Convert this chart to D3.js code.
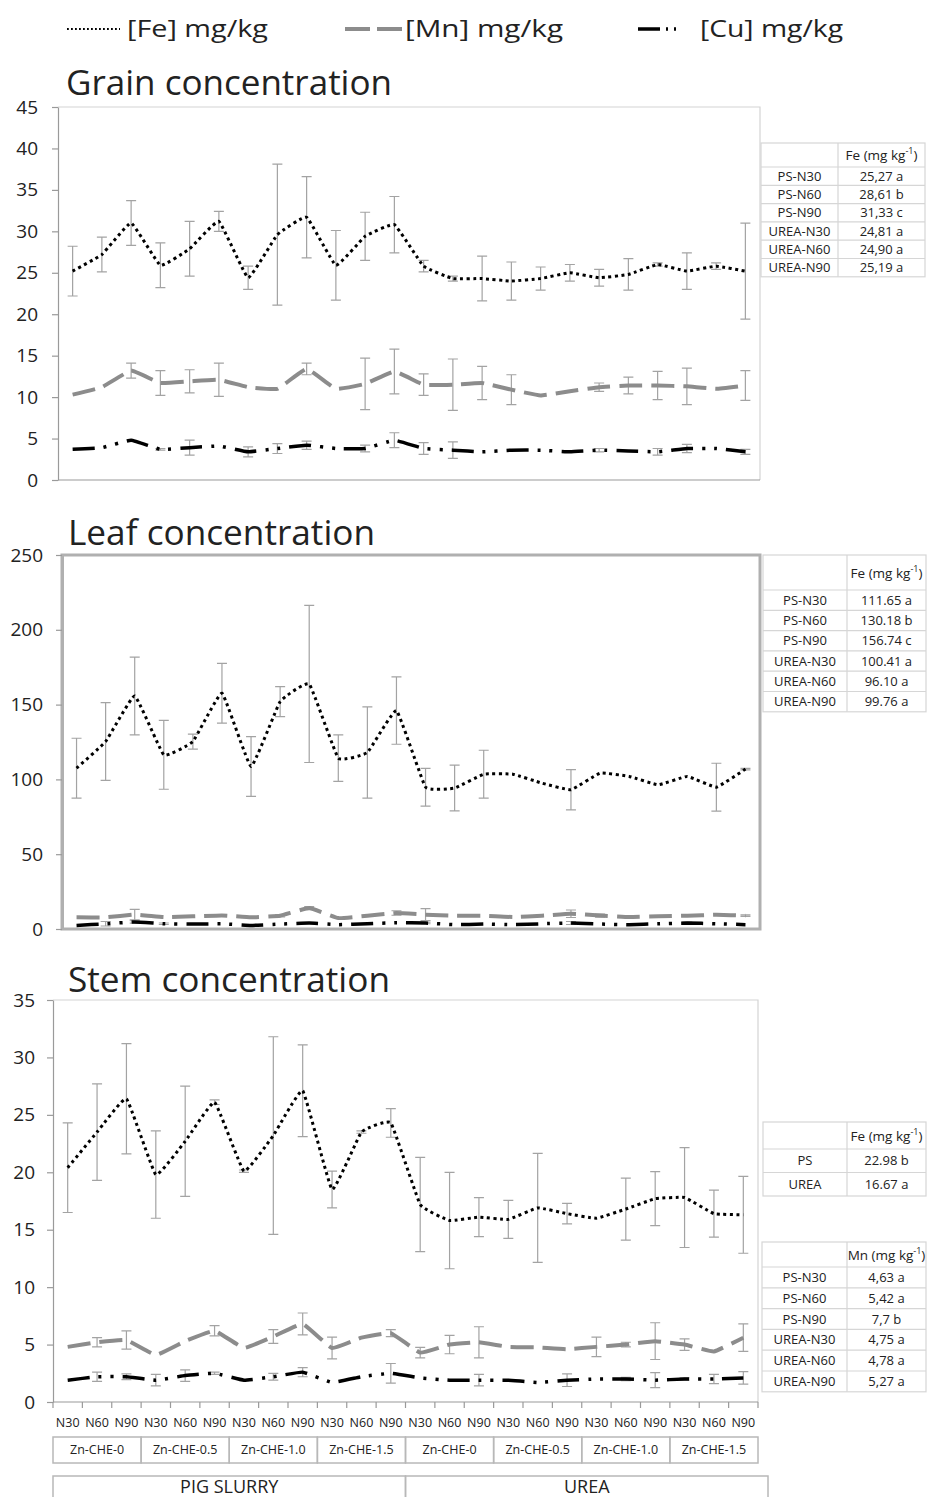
<!DOCTYPE html>
<html><head><meta charset="utf-8">
<script src="https://cdn.jsdelivr.net/npm/d3@7"></script>
<style>
body{margin:0;background:#fff}
svg{display:block}
text{font-family:'Open Sans',sans-serif;fill:#222}
</style>
</head><body>
<svg id="c" width="927" height="1497"></svg>
<script>
// ---------- DATA ----------
const nLevels = ["N30","N60","N90"];
const znLevels = ["Zn-CHE-0","Zn-CHE-0.5","Zn-CHE-1.0","Zn-CHE-1.5"];
const fertilizers = ["PIG SLURRY","UREA"];
const categories = d3.range(24).map(i => fertilizers[Math.floor(i/12)] + "|" + znLevels[Math.floor(i/3)%4] + "|" + nLevels[i%3]);

const legendLabels = ["[Fe] mg/kg","[Mn] mg/kg","[Cu] mg/kg"];
const panelTitles = ["Grain concentration","Leaf concentration","Stem concentration"];

const grainTicks = [0,5,10,15,20,25,30,35,40,45];
const leafTicks = [0,50,100,150,200,250];
const stemTicks = [0,5,10,15,20,25,30,35];

const grainFe    = [25.2,27.2,31.0,25.9,27.9,31.2,24.4,29.6,31.7,25.9,29.4,30.8,25.8,24.3,24.3,24.0,24.3,25.0,24.4,24.8,26.0,25.2,25.8,25.2];
const grainFeErr = [3.0,2.1,2.7,2.7,3.3,1.2,1.4,8.5,4.9,4.2,2.9,3.4,0.7,0.3,2.7,2.3,1.4,1.0,1.0,1.9,0.2,2.2,0.4,5.8];
const grainMn    = [10.3,11.2,13.2,11.7,11.9,12.1,11.2,11.0,13.4,11.0,11.6,13.1,11.5,11.5,11.7,10.9,10.2,10.7,11.2,11.4,11.4,11.3,11.0,11.4];
const grainMnErr = [0,0,0.9,1.5,1.4,2.0,0,0,0.7,0,3.1,2.7,1.3,3.1,2.0,1.8,0,0,0.5,1.0,1.7,2.2,0,1.8];
const grainCu    = [3.7,3.9,4.8,3.7,3.9,4.1,3.4,3.8,4.2,3.8,3.8,4.8,3.8,3.6,3.4,3.6,3.6,3.4,3.6,3.5,3.4,3.8,3.8,3.4];
const grainCuErr = [0,0,0,0.1,0.9,0,0.6,0.6,0.5,0,0.4,0.9,0.7,1.0,0,0,0,0,0.2,0,0.4,0.5,0,0.3];

const leafFe    = [107.5,125.3,155.8,116.4,125.3,157.6,108.6,152.0,163.8,114.2,118.0,146.0,94.8,94.2,103.5,103.5,97.5,93.1,104.2,102.0,96.4,102.0,94.8,106.9];
const leafFeErr = [20,26,26,23,5,20,20,10,52.5,15.5,30.5,22.5,12.6,15.3,16,0,0,13.5,0,0,0,0,16,0.5];
const leafMn    = [7.8,7.8,9.6,8.0,8.5,9.1,7.8,8.9,14.0,7.3,8.9,10.7,9.6,8.9,8.9,8.0,8.9,10.2,9.0,8.0,8.5,8.9,9.5,8.9];
const leafMnErr = [0,0,3.5,0,0,0,0,0.8,1,0,0,1.5,4,0,0,0,0,2.5,1,0,0,0,0,0.5];
const leafCu    = [2.4,3.5,4.7,3.5,3.3,3.5,2.4,3.3,4.0,2.9,3.5,4.2,4.0,2.9,3.3,2.9,3.5,4.0,3.3,2.9,3.5,4.0,3.5,2.9];
const leafCuErr = [0,1.5,0.8,0.5,0,0,0,0,0,0,0,0,0.5,0,0,0,0,1,0,0,0,0.6,0,0];

const stemFe    = [20.4,23.5,26.4,19.8,22.7,26.1,20.1,23.2,27.1,18.5,23.5,24.3,17.2,15.8,16.1,15.9,16.9,16.4,16.0,16.8,17.7,17.8,16.4,16.3];
const stemFeErr = [3.9,4.2,4.8,3.8,4.8,0.2,0.1,8.6,4.0,1.6,0.1,1.25,4.1,4.2,1.7,1.65,4.75,0.9,0,2.7,2.35,4.35,2.05,3.35];
const stemMn    = [4.8,5.2,5.4,4.1,5.3,6.2,4.7,5.7,6.8,4.7,5.6,6.0,4.3,5.0,5.2,4.8,4.75,4.6,4.8,5.0,5.3,5.0,4.4,5.6];
const stemMnErr = [0,0.4,0.8,0,0,0.45,0,0.6,0.95,0.95,0,0.3,0.45,0.8,1.35,0,0,0,0.85,0.2,1.6,0.5,0,1.2];
const stemCu    = [1.9,2.2,2.2,1.9,2.3,2.5,1.9,2.2,2.6,1.7,2.2,2.5,2.1,1.9,1.9,1.9,1.7,1.9,2.0,2.0,1.9,2.0,2.0,2.1];
const stemCuErr = [0,0.4,0.25,0.5,0.5,0.1,0.05,0.3,0.4,0,0,0.85,0,0,0.5,0,0,0.55,0,0.15,0.65,0.1,0.4,0.55];

const treatRows = ["PS-N30","PS-N60","PS-N90","UREA-N30","UREA-N60","UREA-N90"];
const grainTableFe = ["25,27 a","28,61 b","31,33 c","24,81 a","24,90 a","25,19 a"];
const leafTableFe = ["111.65 a","130.18 b","156.74 c","100.41 a","96.10 a","99.76 a"];
const stemFeRows = ["PS","UREA"];
const stemTableFe = ["22.98 b","16.67 a"];
const stemTableMn = ["4,63 a","5,42 a","7,7 b","4,75 a","4,78 a","5,27 a"];

// ---------- STYLES ----------
const styles = {
  fe: {stroke:"#000", width:3, dash:"3 3.5"},
  mn: {stroke:"#8c8c8c", width:4, dash:"23 9"},
  cu: {stroke:"#000", width:3.5, dash:"22 9 3 9 3 9"}
};
const FONT = "'Open Sans',sans-serif";
const svg = d3.select("#c");
svg.append("rect").attr("width",927).attr("height",1497).attr("fill","#fff");

// ---------- LEGEND ----------
const lg = svg.append("g");
lg.append("line").attr("x1",67).attr("x2",120).attr("y1",29).attr("y2",29)
  .attr("stroke","#000").attr("stroke-width",1.8).attr("stroke-dasharray","1.8 2.2");
lg.append("text").attr("x",127).attr("y",37).attr("font-size",24).attr("textLength",141).attr("lengthAdjust","spacingAndGlyphs").text(legendLabels[0]);
lg.append("line").attr("x1",345).attr("x2",402).attr("y1",29).attr("y2",29)
  .attr("stroke","#8c8c8c").attr("stroke-width",4).attr("stroke-dasharray","25 7");
lg.append("text").attr("x",405).attr("y",37).attr("font-size",24).attr("textLength",158).attr("lengthAdjust","spacingAndGlyphs").text(legendLabels[1]);
lg.append("line").attr("x1",638).attr("x2",682).attr("y1",29).attr("y2",29)
  .attr("stroke","#000").attr("stroke-width",3.5).attr("stroke-dasharray","22 6 2 6 2 20");
lg.append("text").attr("x",700).attr("y",37).attr("font-size",24).attr("textLength",143).attr("lengthAdjust","spacingAndGlyphs").text(legendLabels[2]);

// ---------- PANEL ----------
function drawPanel(p){
  const x = d3.scaleBand().domain(categories).range([p.x0,p.x1]);
  const y = d3.scaleLinear().domain([0,p.max]).range([p.yb,p.yt]);
  const bw = x.bandwidth();
  const cx = c => x(c) + bw/2;
  const g = svg.append("g");

  g.append("text").attr("x",p.tx).attr("y",p.ty).attr("font-size",35)
    .attr("textLength",p.tl).attr("lengthAdjust","spacingAndGlyphs").text(p.title);

  if (p.thick){
    g.append("rect").attr("x",p.x0).attr("y",p.yt).attr("width",p.x1-p.x0).attr("height",p.yb-p.yt)
      .attr("fill","none").attr("stroke","#b0b0b0").attr("stroke-width",3);
  } else {
    g.append("path").attr("d",`M${p.x0},${p.yt}H${p.x1}V${p.yb}`).attr("fill","none").attr("stroke","#d4d4d4").attr("stroke-width",1.2);
    g.append("line").attr("x1",p.x0).attr("x2",p.x1).attr("y1",p.yb).attr("y2",p.yb).attr("stroke","#9a9a9a").attr("stroke-width",1.2);
  }
  const ax = g.append("g").attr("transform",`translate(${p.x0},0)`)
    .call(d3.axisLeft(y).tickValues(p.ticks).tickSize(6).tickSizeOuter(0).tickPadding(p.pad));
  ax.select(".domain").attr("stroke",p.thick?"#b0b0b0":"#9a9a9a").attr("stroke-width",p.thick?3:1.2);
  ax.selectAll(".tick line").attr("stroke","#9a9a9a").attr("stroke-width",1.2);
  ax.selectAll(".tick text").attr("font-size",19).attr("font-family",FONT).attr("fill","#333");

  p.series.forEach(s => {
    const st = styles[s.key];
    const eb = g.append("g").attr("stroke","#a3a3a3").attr("stroke-width",1.2).attr("fill","none");
    categories.forEach((c,i) => {
      const e = s.err[i];
      if (!e) return;
      const xc = cx(c), yh = y(s.vals[i]+e), yl = y(Math.max(0,s.vals[i]-e));
      eb.append("path").attr("d",`M${xc},${yh}V${yl}M${xc-5},${yh}H${xc+5}M${xc-5},${yl}H${xc+5}`);
    });
    const line = d3.line().x((d,i)=>cx(categories[i])).y(d=>y(d)).curve(d3.curveCardinal.tension(0.7));
    g.append("path").datum(s.vals).attr("d",line).attr("fill","none")
      .attr("stroke",st.stroke).attr("stroke-width",st.width).attr("stroke-dasharray",st.dash);
  });
  return {x,y,bw};
}

drawPanel({title:panelTitles[0], tx:66, ty:95, tl:326, x0:58, x1:760, yt:107, yb:480, max:45, ticks:grainTicks, pad:14,
  series:[{key:"fe",vals:grainFe,err:grainFeErr},{key:"mn",vals:grainMn,err:grainMnErr},{key:"cu",vals:grainCu,err:grainCuErr}]});
drawPanel({title:panelTitles[1], tx:68, ty:545, tl:307, x0:62, x1:760, yt:555, yb:929, max:250, ticks:leafTicks, pad:13, thick:true,
  series:[{key:"fe",vals:leafFe,err:leafFeErr},{key:"mn",vals:leafMn,err:leafMnErr},{key:"cu",vals:leafCu,err:leafCuErr}]});
const stem = drawPanel({title:panelTitles[2], tx:68, ty:992, tl:322, x0:53, x1:758, yt:1000, yb:1402, max:35, ticks:stemTicks, pad:12,
  series:[{key:"fe",vals:stemFe,err:stemFeErr},{key:"mn",vals:stemMn,err:stemMnErr},{key:"cu",vals:stemCu,err:stemCuErr}]});

// ---------- STEM X AXIS & GROUP BOXES ----------
const xg = svg.append("g");
const sx = stem.x, sbw = stem.bw;
categories.forEach((c,i) => {
  xg.append("line").attr("x1",sx(c)).attr("x2",sx(c)).attr("y1",1402).attr("y2",1408).attr("stroke","#9a9a9a").attr("stroke-width",1.2);
  xg.append("text").attr("x",sx(c)+sbw/2).attr("y",1427).attr("text-anchor","middle").attr("font-size",12.5).attr("fill","#333").text(nLevels[i%3]);
});
xg.append("line").attr("x1",758).attr("x2",758).attr("y1",1402).attr("y2",1408).attr("stroke","#9a9a9a").attr("stroke-width",1.2);

d3.range(8).forEach(k => {
  const a = sx(categories[k*3]), b = sx(categories[k*3+2]) + sbw;
  xg.append("rect").attr("x",a).attr("y",1437).attr("width",b-a).attr("height",26).attr("fill","none").attr("stroke","#b8b8b8").attr("stroke-width",1.5);
  xg.append("text").attr("x",(a+b)/2).attr("y",1454).attr("text-anchor","middle").attr("font-size",12.5).attr("fill","#333").text(znLevels[k%4]);
});
fertilizers.forEach((f,k) => {
  const a = sx(categories[k*12]), b = sx(categories[k*12+11]) + sbw + (k===1?10:0);
  xg.append("rect").attr("x",a).attr("y",1476).attr("width",b-a).attr("height",30).attr("fill","none").attr("stroke","#b8b8b8").attr("stroke-width",1.5);
  xg.append("text").attr("x",(a+b)/2).attr("y",1493).attr("text-anchor","middle").attr("font-size",18).attr("fill","#222").text(f);
});

// ---------- TABLES ----------
function drawTable(t){
  const g = svg.append("g");
  const bottom = t.top + t.hh + t.rh*t.rows.length;
  g.append("rect").attr("x",t.x0).attr("y",t.top).attr("width",t.x1-t.x0).attr("height",bottom-t.top).attr("fill","#fff").attr("stroke","#d6d6d6").attr("stroke-width",1.2);
  g.append("line").attr("x1",t.xs).attr("x2",t.xs).attr("y1",t.top).attr("y2",bottom).attr("stroke","#d6d6d6").attr("stroke-width",1.2);
  const ht = g.append("text").attr("x",(t.xs+t.x1)/2).attr("y",t.top+t.hh/2+5).attr("text-anchor","middle").attr("font-size",13.5);
  ht.append("tspan").text(t.head+" (mg kg");
  ht.append("tspan").attr("font-size",9).attr("dy",-6).text("-1");
  ht.append("tspan").attr("dy",6).text(")");
  t.rows.forEach((r,i) => {
    const yt = t.top + t.hh + t.rh*i;
    g.append("line").attr("x1",t.x0).attr("x2",t.x1).attr("y1",yt).attr("y2",yt).attr("stroke","#d6d6d6").attr("stroke-width",1.2);
    g.append("text").attr("x",(t.x0+t.xs)/2).attr("y",yt+t.rh/2+4.6).attr("text-anchor","middle").attr("font-size",13).text(r);
    g.append("text").attr("x",(t.xs+t.x1)/2).attr("y",yt+t.rh/2+4.6).attr("text-anchor","middle").attr("font-size",13).text(t.vals[i]);
  });
}
drawTable({x0:761, xs:838, x1:925, top:143, hh:24, rh:18.3, head:"Fe", rows:treatRows, vals:grainTableFe});
drawTable({x0:763, xs:847, x1:926, top:555, hh:35, rh:20.3, head:"Fe", rows:treatRows, vals:leafTableFe});
drawTable({x0:763, xs:847, x1:926, top:1122, hh:27, rh:23.5, head:"Fe", rows:stemFeRows, vals:stemTableFe});
drawTable({x0:762, xs:847, x1:926, top:1242, hh:25, rh:20.8, head:"Mn", rows:treatRows, vals:stemTableMn});
</script>
</body></html>
